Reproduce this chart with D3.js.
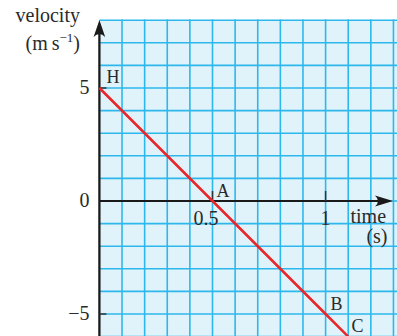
<!DOCTYPE html>
<html><head><meta charset="utf-8">
<script src="https://cdn.jsdelivr.net/npm/d3@7"></script>
<style>
html,body{margin:0;padding:0;background:#fff;}
svg{display:block;}
text{font-family:"Liberation Serif","Times New Roman",serif;fill:#2a2a2a;}
</style></head>
<body>
<svg id="c" width="397" height="336"></svg>
<script>
// ---- data ----
const times = [0, 0.5, 1, 1.1];          // s
const velocities = [5, 0, -5, -6];       // m/s
const pointLabels = ["H", "A", "B", ""];
const endLabel = "C";
const yTickValues = [5, 0, -5];
const yTickLabels = ["5", "0", "\u22125"];
const xTickValues = [0.5, 1];
const xTickLabels = ["0.5", "1"];
const yTitle = "velocity";
const xTitle = "time";
const xUnit = "(s)";

// ---- scales ----
const x = d3.scaleLinear().domain([0, 1]).range([99.4, 325.6]);
const y = d3.scaleLinear().domain([0, 5]).range([201, 88]);

const svg = d3.select("#c");
const gridColor = "#2cb8ec";

// grid background
const tMax = x.invert(400), vMin = y.invert(340), vTop = 8;
svg.append("rect")
  .attr("x", x(0)).attr("y", y(vTop))
  .attr("width", 400 - x(0)).attr("height", 340 - y(vTop))
  .attr("fill", "#e1f3fa");

// grid lines
const vLines = d3.range(1, Math.floor(tMax * 10) + 1).map(d => d / 10);
const hLines = d3.range(Math.ceil(vMin), vTop + 1);
svg.append("g").selectAll("line").data(vLines).join("line")
  .attr("x1", d => x(d)).attr("x2", d => x(d))
  .attr("y1", y(vTop) - 0.8).attr("y2", 340)
  .attr("stroke", gridColor).attr("stroke-width", 1.6);
svg.append("g").selectAll("line").data(hLines).join("line")
  .attr("x1", x(0)).attr("x2", 400)
  .attr("y1", d => y(d)).attr("y2", d => y(d))
  .attr("stroke", gridColor).attr("stroke-width", 1.6);

// axes
const axisColor = "#1a1a1a";
svg.append("line").attr("x1", x(0)).attr("x2", 380).attr("y1", y(0)).attr("y2", y(0))
  .attr("stroke", axisColor).attr("stroke-width", 1.8);
svg.append("line").attr("x1", x(0)).attr("x2", x(0)).attr("y1", 340).attr("y2", 30)
  .attr("stroke", axisColor).attr("stroke-width", 2.3);

// arrowheads
const ax = x(0), ayTip = 20;
svg.append("path")
  .attr("d", `M${ax},${ayTip} L${ax + 5.8},${ayTip + 17} Q${ax},${ayTip + 11} ${ax - 5.8},${ayTip + 17} Z`)
  .attr("fill", axisColor);
const bxTip = 393, by = y(0);
svg.append("path")
  .attr("d", `M${bxTip},${by} L${bxTip - 18},${by - 5.6} Q${bxTip - 12},${by} ${bxTip - 18},${by + 5.6} Z`)
  .attr("fill", axisColor);

// ticks
svg.append("g").selectAll("line").data(yTickValues.filter(d => d !== 0)).join("line")
  .attr("x1", x(0)).attr("x2", x(0) + 7)
  .attr("y1", d => y(d)).attr("y2", d => y(d))
  .attr("stroke", "#333").attr("stroke-width", 1.5);
svg.append("g").selectAll("line").data(xTickValues).join("line")
  .attr("x1", d => x(d)).attr("x2", d => x(d))
  .attr("y1", y(0) - 10).attr("y2", y(0))
  .attr("stroke", "#333").attr("stroke-width", 1.5);

// tick labels
svg.append("g").selectAll("text").data(yTickValues).join("text")
  .attr("x", 89.5).attr("y", d => y(d) + 5.5)
  .attr("text-anchor", "end").attr("font-size", 20)
  .text((d, i) => yTickLabels[i]);
svg.append("g").selectAll("text").data(xTickValues).join("text")
  .attr("x", (d, i) => x(d) + (i === 0 ? -6.5 : 0)).attr("y", y(0) + 24)
  .attr("text-anchor", "middle").attr("font-size", 20)
  .text((d, i) => xTickLabels[i]);

// titles
svg.append("text").attr("x", 80).attr("y", 22).attr("text-anchor", "end")
  .attr("font-size", 20).text(yTitle);
const unit = svg.append("text").attr("x", 80).attr("y", 50).attr("text-anchor", "end")
  .attr("font-size", 20);
unit.append("tspan").text("(m\u2009s");
unit.append("tspan").attr("font-size", 13).attr("dy", -8).text("\u22121");
unit.append("tspan").attr("dy", 8).text(")");
svg.append("text").attr("x", 350.5).attr("y", 223).attr("font-size", 20).text(xTitle);
svg.append("text").attr("x", 387.5).attr("y", 243).attr("text-anchor", "end")
  .attr("font-size", 20).text(xUnit);

// velocity line
const line = d3.line().x((d, i) => x(times[i])).y((d, i) => y(velocities[i]));
svg.append("path").datum(velocities).attr("d", line)
  .attr("fill", "none").attr("stroke", "#e8262b").attr("stroke-width", 2.5);

// point labels
const labelOffsets = [[7, -5], [4, -4.5], [5, -4], [0, 0]];
svg.append("g").selectAll("text").data(pointLabels).join("text")
  .attr("x", (d, i) => x(times[i]) + labelOffsets[i][0])
  .attr("y", (d, i) => y(velocities[i]) + labelOffsets[i][1])
  .attr("font-size", 18).text(d => d);
svg.append("text").attr("x", 351.5).attr("y", 331.5).attr("font-size", 18).text(endLabel);
</script>
</body></html>
